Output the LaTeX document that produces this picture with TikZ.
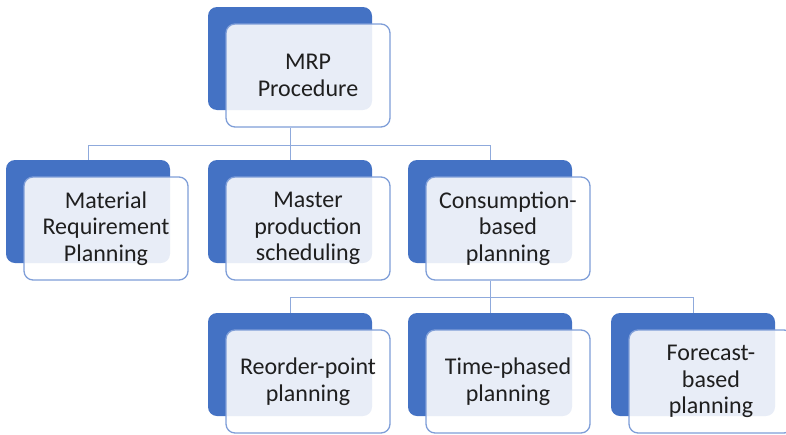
\documentclass[tikz,border=0pt]{standalone}
\usepackage{fontspec}
\setmainfont{Carlito}
\definecolor{darkblue}{HTML}{4472C4}
\definecolor{frontline}{HTML}{7F9ED8}
\definecolor{connline}{HTML}{8FAADC}
\definecolor{txt}{HTML}{1F1F1F}
\tikzset{
  backbox/.style={fill=darkblue, rounded corners=9pt, minimum width=164pt, minimum height=103pt, inner sep=0pt, draw=none},
  frontbox/.style={fill=white, fill opacity=0.88, draw opacity=1, text opacity=1, draw=frontline, line width=1.3pt, rounded corners=9pt, minimum width=164pt, minimum height=103pt, inner sep=0pt, align=center, text=txt, font=\fontsize{24pt}{26.5pt}\selectfont},
  conn/.style={draw=connline, line width=1pt}
}
\begin{document}
\begin{tikzpicture}[x=1pt,y=-1pt]
\useasboundingbox (0,0) rectangle (786,434);
\begin{scope}
\clip (0,0) rectangle (786,434);
% bus levels
\coordinate (busA) at (0,145);
\coordinate (busB) at (0,297);
% top
\node[backbox] (topD) at (290,58.5) {};
\node[frontbox] (topF) at (308,75.5) {MRP\\Procedure};
% row 2
\node[backbox] (matD) at (88,211.5) {};
\node[frontbox] (matF) at (106,228.5) {Material\\Requirement\\Planning};
\node[backbox] (mpsD) at (290,211.5) {};
\node[frontbox] (mpsF) at (308,228.5) {Master\\production\\scheduling};
\node[backbox] (conD) at (490,211.5) {};
\node[frontbox] (conF) at (508,228.5) {Consumption-\\based\\planning};
% row 3
\node[backbox] (ropD) at (290,364.5) {};
\node[frontbox] (ropF) at (308,381.5) {Reorder-point\\planning};
\node[backbox] (tphD) at (490,364.5) {};
\node[frontbox] (tphF) at (508,381.5) {Time-phased\\planning};
\node[backbox] (fcbD) at (693,364.5) {};
\node[frontbox] (fcbF) at (711,381.5) {Forecast-\\based\\planning};
% edges
\draw[conn] (topD.south |- topF.south) -- (topD.south |- busA) -| (matD.north);
\draw[conn] (topD.south |- busA) -- (mpsD.north);
\draw[conn] (topD.south |- busA) -| (conD.north);
\draw[conn] (conD.south |- conF.south) -- (conD.south |- busB) -| (ropD.north);
\draw[conn] (conD.south |- busB) -- (tphD.north);
\draw[conn] (conD.south |- busB) -| (fcbD.north);
\end{scope}
\end{tikzpicture}
\end{document}
